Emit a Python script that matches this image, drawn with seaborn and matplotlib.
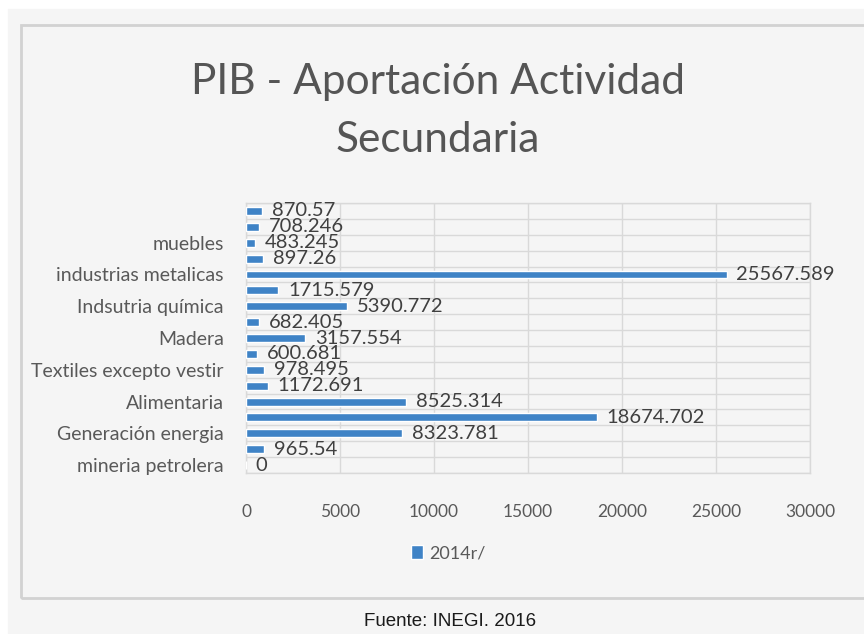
import numpy as np
import pandas as pd
import matplotlib
matplotlib.use("Agg")
import matplotlib.pyplot as plt
import seaborn as sns
from matplotlib.patches import Rectangle

# datos (de abajo hacia arriba, como en la hoja de Excel)
# Excel solo muestra una etiqueta de cada dos en el eje
sectores = ["mineria petrolera", "", "Generación energia", "", "Alimentaria", "",
            "Textiles excepto vestir", "", "Madera", "", "Indsutria química", "",
            "industrias metalicas", "", "muebles", "", ""]
valores = [0, 965.54, 8323.781, 18674.702, 8525.314, 1172.691, 978.495, 600.681,
           3157.554, 682.405, 5390.772, 1715.579, 25567.589, 897.26, 483.245,
           708.246, 870.57]
serie = "2014r/"
x_ticks = [0, 5000, 10000, 15000, 20000, 25000, 30000]

df = pd.DataFrame({"pos": range(len(valores)), "valor": valores, "serie": serie})
orden = list(range(len(valores)))[::-1]

sns.set_theme(style="white")
plt.rcParams["font.family"] = ["Lato", "DejaVu Sans"]
gris = "#595959"

fig = plt.figure(figsize=(8.64, 6.34), dpi=100)
fig.patch.set_facecolor("white")
fig.patches.append(Rectangle((8 / 864, 0), 1, 1 - 9 / 634, transform=fig.transFigure,
                             color="#f5f5f5", zorder=-10))
fig.patches.append(Rectangle((21 / 864, 1 - 598 / 634), 1, (598 - 25) / 634,
                             transform=fig.transFigure, fill=False, ec="#d2d2d2", lw=2))

ax = fig.add_axes([246 / 864, 1 - 473 / 634, (810 - 246) / 864, (473 - 203) / 634])
ax.set_facecolor("#f5f5f5")
sns.barplot(data=df, x="valor", y="pos", hue="serie", orient="h", order=orden,
            palette=["#3f83c6"], saturation=1, width=0.5, ax=ax, zorder=3)

def fmt(w):
    return f"{w:.3f}".rstrip("0").rstrip(".")

for c in ax.containers:
    ax.bar_label(c, labels=[fmt(b.get_width()) for b in c], padding=7,
                 fontsize=14.5, color="#404040")

ax.set_xlim(0, 30000)
ax.set_xticks(x_ticks)
ax.set_xticklabels([str(t) for t in x_ticks])
ax.set_yticklabels([sectores[p] for p in orden])
ax.set_yticks(np.arange(-0.5, len(valores), 1), minor=True)
ax.set_ylim(len(valores) - 0.5, -0.5)
ax.grid(which="minor", axis="y", color="#d9d9d9", lw=1)
ax.grid(which="major", axis="x", color="#d9d9d9", lw=1)
ax.tick_params(axis="x", which="both", length=0, pad=22, labelsize=12.5, labelcolor=gris)
ax.tick_params(axis="y", which="both", length=0, pad=16, labelsize=14, labelcolor=gris)
ax.set_xlabel("")
ax.set_ylabel("")
for s in ax.spines.values():
    s.set_color("#d9d9d9")
    s.set_linewidth(1)

sns.move_legend(ax, "center", bbox_to_anchor=(448 / 864, 1 - 553 / 634),
                bbox_transform=fig.transFigure, frameon=False, title=None,
                handlelength=0.7, handleheight=0.8, handletextpad=0.3,
                fontsize=13, labelcolor=gris)

fig.text(438 / 864, 1 - 111 / 634, "PIB - Aportación Actividad\nSecundaria",
         ha="center", va="center", fontsize=30.5, color="#555555",
         linespacing=1.65)
fig.text(450 / 864, 1 - 622 / 634, "Fuente: INEGI. 2016", ha="center", va="center",
         fontsize=13.5, color="#1a1a1a", family=["Liberation Sans"])

fig.savefig("out.png", dpi=100, facecolor=fig.get_facecolor())
